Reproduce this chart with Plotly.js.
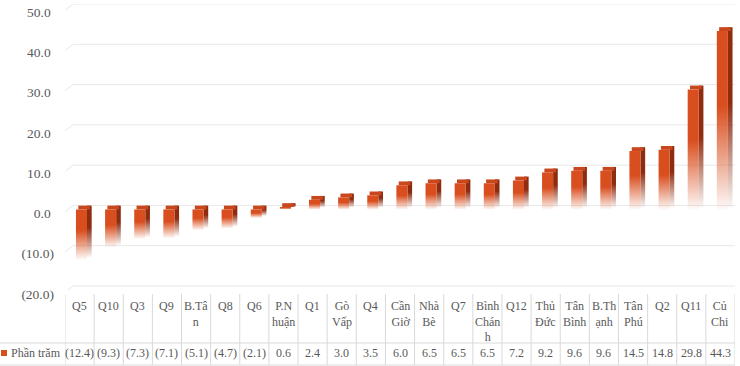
<!DOCTYPE html>
<html>
<head>
<meta charset="utf-8">
<script src="https://cdn.plot.ly/plotly-3.0.1.min.js"></script>
<style>html,body{margin:0;padding:0;background:#fff;}#chart{width:740px;height:366px;}</style>
</head>
<body>
<div id="chart"></div>
<script>
// ---- data ----
const seriesName = "Phần trăm";
const categories = ["Q5","Q10","Q3","Q9","B.Tân","Q8","Q6","P.Nhuận","Q1","Gò Vấp","Q4","Cần Giờ","Nhà Bè","Q7","Bình Chánh","Q12","Thủ Đức","Tân Bình","B.Thạnh","Tân Phú","Q2","Q11","Củ Chi"];
const catLabels = ["Q5","Q10","Q3","Q9","B.Tâ<br>n","Q8","Q6","P.N<br>huận","Q1","Gò<br>Vấp","Q4","Cần<br>Giờ","Nhà<br>Bè","Q7","Bình<br>Chán<br>h","Q12","Thủ<br>Đức","Tân<br>Bình","B.Th<br>ạnh","Tân<br>Phú","Q2","Q11","Củ<br>Chi"];
const values = [-12.4,-9.3,-7.3,-7.1,-5.1,-4.7,-2.1,0.6,2.4,3.0,3.5,6.0,6.5,6.5,6.5,7.2,9.2,9.6,9.6,14.5,14.8,29.8,44.3];
const yTickVals = [-20,-10,0,10,20,30,40,50];
const yTickText = ["(20.0)","(10.0)","0.0\u00a0","10.0\u00a0","20.0\u00a0","30.0\u00a0","40.0\u00a0","50.0\u00a0"];

// ---- styling ----
const FRONT = "rgb(217,78,30)", SIDE = "rgb(142,44,16)", TOP = "#C9471C";
const TXT = "#595959", GRID = "#E8E8E8", TBL = "#D9D9D9";
const FONT = "Liberation Serif, DejaVu Serif, serif";
const W = 740, H = 366, ML = 65, MR = 5, MT = 4, MB = 76;
const PW = W - ML - MR, PH = H - MT - MB;
const pxX = px => (px - ML) / PW;
const pxY = py => (H - MB - py) / PH;

const frontOff = -0.124, frontW = 0.38, sideOff = 0.256, sideW = 0.16, topH = 0.95;

const lows = values.map(v=>Math.min(0,v));
const highs = values.map(v=>Math.max(0,v));
const lens = values.map((v,i)=>highs[i]-lows[i]);

const traces = [
  {type:"bar", x:categories, base:lows.map(l=>l+0.5), y:lens.map(L=>L+0.45), offset:sideOff, width:sideW,
   marker:{color:SIDE, line:{width:0}}, hoverinfo:"skip", showlegend:false},
  {type:"bar", x:categories, base:highs, y:values.map(()=>topH), offset:frontOff+0.08, width:frontW+0.02,
   marker:{color:TOP, line:{width:0}}, hoverinfo:"skip", showlegend:false},
  {type:"bar", name:seriesName, x:categories, base:lows, y:lens, offset:frontOff, width:frontW,
   marker:{color:FRONT, line:{width:0}}, hoverinfo:"skip", showlegend:false}
];

// ---- gridlines (back wall with perspective kink) ----
const shapes = yTickVals.map(t => ({type:"path", xref:"paper", yref:"y",
  path:`M 0,${t-0.55} L ${pxX(73)},${t+1.0} L 1,${t+1.0}`, line:{color:GRID, width:1}, layer:"below"}));

// ---- data table ----
for(let i=0;i<=categories.length;i++){
  shapes.push({type:"line", xref:"x", yref:"paper", x0:i-0.5, x1:i-0.5, y0:pxY(294), y1:pxY(365), line:{color:TBL,width:1}});
}
shapes.push({type:"line", xref:"paper", yref:"paper", x0:pxX(0), x1:1, y0:pxY(343), y1:pxY(343), line:{color:TBL,width:1}});
shapes.push({type:"line", xref:"paper", yref:"paper", x0:pxX(0), x1:1, y0:pxY(365), y1:pxY(365), line:{color:TBL,width:1}});
shapes.push({type:"rect", xref:"paper", yref:"paper", x0:pxX(1), x1:pxX(7), y0:pxY(356), y1:pxY(350), line:{width:0}, fillcolor:FRONT});

const fmt = v => v < 0 ? `(${Math.abs(v).toFixed(1)})` : v.toFixed(1);
const annotations = [];
categories.forEach((c,i)=>{
  annotations.push({xref:"x", yref:"paper", x:c, y:pxY(297), yanchor:"top", xanchor:"center", showarrow:false,
    text:catLabels[i], font:{family:FONT,size:12,color:TXT}});
  annotations.push({xref:"x", yref:"paper", x:c, y:pxY(353), yanchor:"middle", xanchor:"center", showarrow:false,
    text:fmt(values[i]), font:{family:FONT,size:12,color:TXT}});
});
annotations.push({xref:"paper", yref:"paper", x:pxX(9), y:pxY(353), xanchor:"left", yanchor:"middle", showarrow:false,
  text:seriesName, font:{family:FONT,size:12,color:TXT}});

const layout = {
  width:W, height:H, margin:{l:ML, r:MR, t:MT, b:MB, pad:0},
  paper_bgcolor:"#fff", plot_bgcolor:"#fff",
  barmode:"overlay", showlegend:false,
  xaxis:{type:"category", range:[-0.5, categories.length-0.5], showticklabels:false, showgrid:false, zeroline:false, showline:false, ticks:""},
  yaxis:{range:[-20,51], tickvals:yTickVals, ticktext:yTickText, showgrid:false, zeroline:false, showline:false, ticks:"",
    ticklabelstandoff:10, ticklabelshift:4, tickfont:{family:FONT, size:13.5, color:TXT}},
  shapes:shapes, annotations:annotations
};

// vertical fade (solid top, fading bottom) applied per bar as a fill style
function applyFades(gd){
  const svg = gd.querySelector("svg.main-svg");
  let defs = svg.querySelector("defs");
  const NS = "http://www.w3.org/2000/svg";
  function grad(id, color){
    const g = document.createElementNS(NS, "linearGradient");
    g.setAttribute("id", id); g.setAttribute("x1","0"); g.setAttribute("y1","0"); g.setAttribute("x2","0"); g.setAttribute("y2","1");
    [[0,1],[0.42,1],[0.75,0.45],[1,0.03]].forEach(([o,a])=>{
      const s = document.createElementNS(NS, "stop");
      s.setAttribute("offset", o); s.setAttribute("stop-color", color); s.setAttribute("stop-opacity", a);
      g.appendChild(s);
    });
    defs.appendChild(g);
  }
  grad("fadeSide", SIDE); grad("fadeFront", FRONT);
  const tg = gd.querySelectorAll(".barlayer .trace");
  tg[0].querySelectorAll("path").forEach(p=>{ p.style.fill = "url(#fadeSide)"; });
  tg[2].querySelectorAll("path").forEach(p=>{ p.style.fill = "url(#fadeFront)"; });
}
Plotly.newPlot("chart", traces, layout, {staticPlot:true, displayModeBar:false}).then(applyFades);
</script>
</body>
</html>
